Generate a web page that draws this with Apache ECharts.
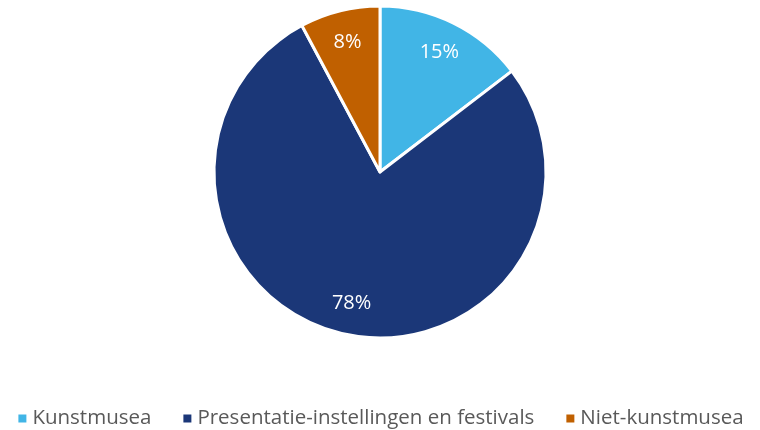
<!DOCTYPE html>
<html>
<head>
<meta charset="utf-8">
<script src="https://cdn.jsdelivr.net/npm/echarts@6/dist/echarts.min.js"></script>
<style>
  html, body { margin: 0; padding: 0; background: #fff; }
  #chart { width: 760px; height: 430px; }
</style>
</head>
<body>
<div id="chart"></div>
<script>
  var categories = ['Kunstmusea', 'Presentatie-instellingen en festivals', 'Niet-kunstmusea'];
  var values = [14.6, 77.6, 7.8];
  var colors = ['#41B5E6', '#1B3778', '#C06000'];

  var pieData = categories.map(function (name, i) {
    return { name: name, value: values[i], itemStyle: { color: colors[i] } };
  });

  var myChart = echarts.init(document.getElementById('chart'));
  var option = {
    animation: false,
    legend: {
      data: categories,
      top: 403,
      left: 'center',
      itemWidth: 10,
      itemHeight: 10,
      itemGap: 30,
      icon: 'rect',
      textStyle: { fontFamily: 'Open Sans', fontSize: 20.5, color: '#595959' }
    },
    series: [
      {
        name: 'aandeel',
        type: 'pie',
        center: [380, 172],
        radius: [0, 166],
        startAngle: 90,
        clockwise: true,
        itemStyle: { borderColor: '#fff', borderWidth: 3 },
        label: { show: false },
        labelLine: { show: false },
        data: pieData
      },
      {
        // transparent ring, only used to put the percent labels further out
        name: 'labels',
        type: 'pie',
        center: [380, 172],
        radius: [96, 166],
        startAngle: 90,
        silent: true,
        legendHoverLink: false,
        itemStyle: { color: 'rgba(0,0,0,0)', borderWidth: 0 },
        label: {
          show: true,
          position: 'inside',
          color: '#fff',
          fontFamily: 'Open Sans',
          fontSize: 20,
          formatter: function (p) { return Math.round(p.value) + '%'; }
        },
        labelLine: { show: false },
        data: values.map(function (v, i) { return { name: categories[i] + ' ', value: v }; })
      }
    ]
  };
  myChart.setOption(option);
</script>
</body>
</html>
